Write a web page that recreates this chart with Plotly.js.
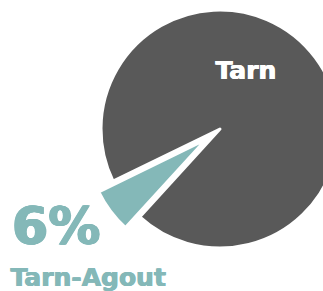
<!DOCTYPE html>
<html>
<head>
<meta charset="utf-8">
<script src="https://cdn.plot.ly/plotly-3.0.1.min.js"></script>
<style>
html,body{margin:0;padding:0;overflow:hidden;width:323px;height:291px;background:#fff;}
#chart{position:absolute;left:0;top:-8px;width:400px;height:300px;}
</style>
</head>
<body>
<div id="chart"></div>
<script>
const labels = ['Tarn', 'Tarn-Agout'];
const values = [94, 6];
const colors = ['#595959', '#84B8B8'];
const pulls = [0, 0.15];

const W = 400, H = 300, OFF = 8;
function px(x){ return x / W; }
function py(y){ return 1 - (y + OFF) / H; }
const total = values.reduce((a, b) => a + b, 0);
const pct = values.map(v => Math.round(v / total * 100) + '%');
function heavy(c, n){ let s = []; for (let i = 1; i <= n; i++) s.push((i * 0.5) + 'px 0 0 ' + c); return s.join(', '); }

const data = [{
  type: 'pie',
  labels: labels,
  values: values,
  sort: false,
  direction: 'clockwise',
  rotation: -116,
  pull: pulls,
  marker: {colors: colors, line: {color: '#ffffff', width: 3}},
  textinfo: 'none',
  hoverinfo: 'none',
  showlegend: false,
  domain: {x: [0.2079, 0.8921], y: [0.0872, 0.9995]}
}];

const layout = {
  width: W, height: H,
  margin: {l: 0, r: 0, t: 0, b: 0},
  paper_bgcolor: '#ffffff',
  showlegend: false,
  annotations: [
    {text: labels[0], x: px(245), y: py(70), xref: 'paper', yref: 'paper', xanchor: 'center', yanchor: 'middle', showarrow: false,
     font: {family: 'DejaVu Sans', size: 25, color: '#ffffff', weight: 'bold', shadow: heavy('#ffffff', 2)}},
    {text: pct[1], x: px(9), y: py(226), xref: 'paper', yref: 'paper', xanchor: 'left', yanchor: 'middle', showarrow: false,
     font: {family: 'DejaVu Sans', size: 52, color: colors[1], weight: 'bold', shadow: heavy(colors[1], 4)}},
    {text: labels[1], x: px(8), y: py(277), xref: 'paper', yref: 'paper', xanchor: 'left', yanchor: 'middle', showarrow: false,
     font: {family: 'DejaVu Sans', size: 25, color: colors[1], weight: 'bold', shadow: heavy(colors[1], 2)}}
  ]
};

Plotly.newPlot('chart', data, layout, {staticPlot: true, displayModeBar: false});
</script>
</body>
</html>
